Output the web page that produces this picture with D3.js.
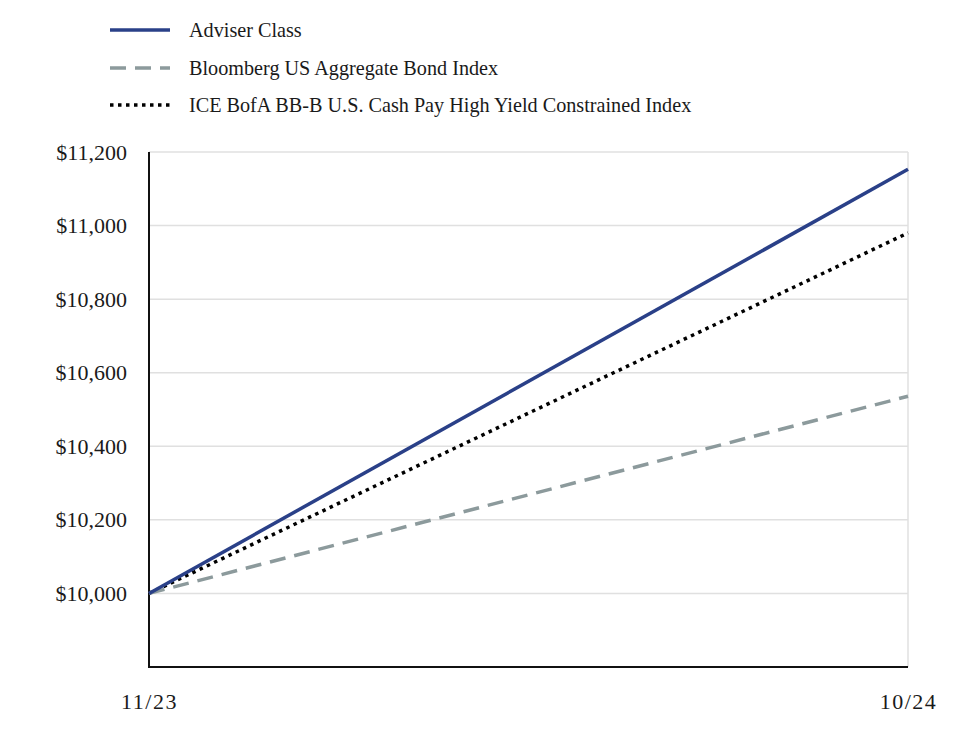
<!DOCTYPE html>
<html><head><meta charset="utf-8">
<script src="https://cdn.jsdelivr.net/npm/d3@7"></script>
<style>body{margin:0;background:#fff}svg text{font-family:"Liberation Serif","DejaVu Serif",serif;fill:#1a1a1a}</style>
</head><body>
<svg id="c" width="964" height="740"></svg>
<script>
const dates = ["11/23", "10/24"];
const seriesNames = ["Adviser Class", "Bloomberg US Aggregate Bond Index", "ICE BofA BB-B U.S. Cash Pay High Yield Constrained Index"];
const adviserClass = [10000, 11153];
const bloombergAgg = [10000, 10536];
const iceBofA = [10000, 10980];
const yTicks = [10000, 10200, 10400, 10600, 10800, 11000, 11200];

const series = [
  {name: seriesNames[0], values: adviserClass, color: "#2a4088", dash: null},
  {name: seriesNames[1], values: bloombergAgg, color: "#8c9a9c", dash: "16,9"},
  {name: seriesNames[2], values: iceBofA, color: "#000", dash: "3.5,4.5"}
];

const svg = d3.select("#c");
const m = {l:149, r:908, t:152, b:667};
const x = d3.scalePoint().domain(dates).range([m.l, m.r]);
const y = d3.scaleLinear().domain([9800, 11200]).range([m.b, m.t]);

// grid
svg.append("g").selectAll("line").data(yTicks).join("line")
  .attr("x1", m.l).attr("x2", m.r).attr("y1", d=>y(d)).attr("y2", d=>y(d))
  .attr("stroke", "#e0e0e0").attr("stroke-width", 1.5);
svg.append("line").attr("x1", m.r).attr("x2", m.r).attr("y1", m.t).attr("y2", m.b)
  .attr("stroke", "#e0e0e0").attr("stroke-width", 1.5);

// y axis
const ya = svg.append("g").attr("transform", `translate(${m.l},0)`)
  .call(d3.axisLeft(y).tickValues(yTicks).tickSize(0).tickPadding(22).tickFormat(d=>"$"+d3.format(",")(d)));
ya.select(".domain").remove();
ya.selectAll("text").attr("font-size", 22).style("font-family", '"Liberation Serif",serif').attr("fill","#1a1a1a");
svg.append("line").attr("x1", m.l).attr("x2", m.l).attr("y1", m.t).attr("y2", m.b+1).attr("stroke","#111").attr("stroke-width",2);

// x axis
const xa = svg.append("g").attr("transform", `translate(0,${m.b})`)
  .call(d3.axisBottom(x).tickSize(0).tickPadding(26));
xa.select(".domain").remove();
xa.selectAll("text").attr("font-size", 22).style("font-family", '"Liberation Serif",serif').attr("fill","#1a1a1a").attr("letter-spacing", "1.5px");
svg.append("line").attr("x1", m.l-1).attr("x2", m.r).attr("y1", m.b).attr("y2", m.b).attr("stroke","#111").attr("stroke-width",2);

// lines
const line = d3.line().x((d,i)=>x(dates[i])).y(d=>y(d));
series.slice().reverse().forEach(s=>{
  svg.append("path").attr("d", line(s.values)).attr("fill","none")
    .attr("stroke", s.color).attr("stroke-width", 3.5)
    .attr("stroke-dasharray", s.dash);
});

// legend
const lg = svg.append("g");
series.forEach((s,i)=>{
  const yy = [30, 68, 105][i];
  lg.append("line").attr("x1",110).attr("x2",170).attr("y1",yy).attr("y2",yy)
    .attr("stroke", s.color).attr("stroke-width", 3.5).attr("stroke-dasharray", s.dash);
  lg.append("text").attr("x",189).attr("y",yy).attr("dy","0.35em").attr("font-size",20.2).text(s.name);
});
</script>
</body></html>
